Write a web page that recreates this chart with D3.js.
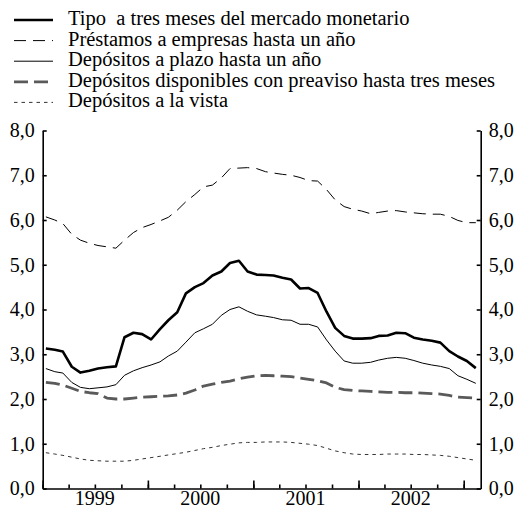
<!DOCTYPE html>
<html>
<head>
<meta charset="utf-8">
<script src="https://cdn.jsdelivr.net/npm/d3@7"></script>
<style>
  body { margin: 0; background: #fff; }
</style>
</head>
<body>
<div id="chart"></div>
<script>
// monthly observations, Jan 1999 - Feb 2003
let months = d3.timeMonth.range(new Date(1999, 0, 1), new Date(2003, 2, 1)).map(d => new Date(d.getFullYear(), d.getMonth(), 12));

let tipo3m = [3.13, 3.10, 3.06, 2.72, 2.59, 2.63, 2.68, 2.71, 2.73, 3.38, 3.48, 3.45,
  3.33, 3.56, 3.76, 3.94, 4.36, 4.50, 4.59, 4.76, 4.85, 5.04, 5.09, 4.85,
  4.78, 4.77, 4.76, 4.71, 4.67, 4.47, 4.48, 4.37, 3.95, 3.59, 3.41, 3.35,
  3.35, 3.36, 3.41, 3.42, 3.48, 3.47, 3.37, 3.33, 3.30, 3.26, 3.07, 2.95,
  2.85, 2.69];

let prestamos = [6.07, 6.00, 5.92, 5.68, 5.55, 5.48, 5.43, 5.40, 5.37, 5.55, 5.72, 5.83,
  5.90, 5.98, 6.06, 6.22, 6.41, 6.57, 6.74, 6.78, 6.94, 7.15, 7.16, 7.17,
  7.15, 7.08, 7.05, 7.02, 7.00, 6.95, 6.88, 6.87, 6.68, 6.45, 6.30, 6.24,
  6.20, 6.14, 6.17, 6.20, 6.21, 6.18, 6.16, 6.14, 6.13, 6.13, 6.08, 5.99,
  5.94, 5.94];

let plazo = [2.68, 2.61, 2.58, 2.37, 2.26, 2.23, 2.25, 2.27, 2.32, 2.53, 2.63, 2.70,
  2.76, 2.83, 2.96, 3.07, 3.27, 3.48, 3.57, 3.67, 3.87, 4.00, 4.06, 3.96,
  3.88, 3.85, 3.82, 3.77, 3.76, 3.67, 3.67, 3.61, 3.32, 3.07, 2.85, 2.80,
  2.80, 2.82, 2.87, 2.91, 2.93, 2.91, 2.86, 2.80, 2.76, 2.73, 2.68, 2.52,
  2.44, 2.35];

let preaviso = [2.37, 2.35, 2.31, 2.24, 2.17, 2.14, 2.12, 2.02, 2.00, 2.00, 2.02, 2.04,
  2.05, 2.06, 2.07, 2.09, 2.13, 2.20, 2.29, 2.33, 2.37, 2.40, 2.45, 2.49,
  2.52, 2.53, 2.52, 2.51, 2.50, 2.47, 2.44, 2.41, 2.36, 2.26, 2.21, 2.19,
  2.18, 2.17, 2.16, 2.15, 2.15, 2.14, 2.14, 2.13, 2.12, 2.11, 2.08, 2.04,
  2.03, 2.02];

let vista = [0.80, 0.77, 0.74, 0.70, 0.66, 0.63, 0.62, 0.61, 0.61, 0.61, 0.63, 0.66,
  0.69, 0.72, 0.75, 0.78, 0.81, 0.85, 0.89, 0.92, 0.96, 0.99, 1.02, 1.03,
  1.03, 1.04, 1.04, 1.04, 1.03, 1.01, 0.99, 0.96, 0.90, 0.84, 0.80, 0.77,
  0.76, 0.76, 0.76, 0.77, 0.77, 0.77, 0.76, 0.76, 0.75, 0.74, 0.72, 0.69,
  0.66, 0.63];

let labels = ["Tipo  a tres meses del mercado monetario",
  "Préstamos a empresas hasta un año",
  "Depósitos a plazo hasta un año",
  "Depósitos disponibles con preaviso hasta tres meses",
  "Depósitos a la vista"];

let yTicks = [0, 1, 2, 3, 4, 5, 6, 7, 8];
let years = [1999, 2000, 2001, 2002];

let series = [
  { name: labels[0], values: tipo3m, color: "#000", width: 2.6, dash: null },
  { name: labels[1], values: prestamos, color: "#000", width: 1, dash: "12,7" },
  { name: labels[2], values: plazo, color: "#000", width: 1, dash: null },
  { name: labels[3], values: preaviso, color: "#5a5a5a", width: 2.8, dash: "14,6" },
  { name: labels[4], values: vista, color: "#333", width: 1, dash: "3.5,4" }
];

let serif = '"Liberation Serif"';

let width = 517, height = 508;
let margin = ({top: 130.5, right: 36.3, bottom: 19.5, left: 42.7});

let x = d3.scaleTime()
  .domain([new Date(1999, 0, 1), new Date(2003, 2, 1)])
  .range([margin.left, width - margin.right]);

let y = d3.scaleLinear()
  .domain([0, 8])
  .range([height - margin.bottom, margin.top]);

let locale = d3.formatLocale({decimal: ",", thousands: ".", grouping: [3], currency: ["", "€"]});
let fmt = locale.format(".1f");

const svg = d3.select("#chart").append("svg")
  .attr("width", width)
  .attr("height", height);

// axes
let yLeft = g => g
  .attr("transform", `translate(${margin.left},0)`)
  .call(d3.axisLeft(y).tickValues(yTicks).tickFormat(fmt).tickSizeInner(-4).tickSizeOuter(0).tickPadding(8));

let yRight = g => g
  .attr("transform", `translate(${width - margin.right},0)`)
  .call(d3.axisRight(y).tickValues(yTicks).tickFormat(fmt).tickSizeInner(-4).tickSizeOuter(0).tickPadding(8));

let xMinor = g => g
  .attr("transform", `translate(0,${height - margin.bottom})`)
  .call(d3.axisBottom(x).ticks(d3.timeMonth.every(3)).tickFormat("").tickSizeInner(-4).tickSizeOuter(0));

let xMajor = g => g
  .attr("transform", `translate(0,${height - margin.bottom})`)
  .call(d3.axisBottom(x).ticks(d3.timeYear.every(1)).tickFormat("").tickSizeInner(-8).tickSizeOuter(0))
  .call(g => g.select(".domain").remove());

[yLeft, yRight, xMinor, xMajor].forEach(ax => {
  svg.append("g").call(ax)
    .call(g => g.selectAll(".domain, line").attr("stroke", "#000").attr("stroke-width", 1.6))
    .call(g => g.selectAll("text").style("font-family", serif).style("font-size", "20px").attr("fill", "#000"));
});

// year labels centred in each year
svg.append("g")
  .selectAll("text")
  .data(years)
  .join("text")
    .attr("x", d => x(new Date(d, 6, 1)))
    .attr("y", 505)
    .attr("text-anchor", "middle")
    .style("font-family", serif)
    .style("font-size", "20px")
    .text(d => d);

let line = d3.line()
  .x((d, i) => x(months[i]))
  .y(d => y(d));

svg.append("g")
  .selectAll("path")
  .data(series)
  .join("path")
    .attr("fill", "none")
    .attr("stroke", d => d.color)
    .attr("stroke-width", d => d.width)
    .attr("stroke-dasharray", d => d.dash)
    .attr("stroke-linejoin", "round")
    .attr("d", d => line(d.values));

// legend
let legend = svg.append("g")
  .selectAll("g")
  .data(series)
  .join("g")
    .attr("transform", (d, i) => `translate(0,${25 + i * 20.6})`);

legend.append("line")
  .attr("x1", 14)
  .attr("x2", 53)
  .attr("y1", -5)
  .attr("y2", -5)
  .attr("stroke", d => d.color)
  .attr("stroke-width", d => d.width)
  .attr("stroke-dasharray", d => d.dash);

legend.append("text")
  .attr("x", 68)
  .style("font-family", serif)
  .style("font-size", "20.5px")
  .style("white-space", "pre")
  .text(d => d.name);
</script>
</body>
</html>
